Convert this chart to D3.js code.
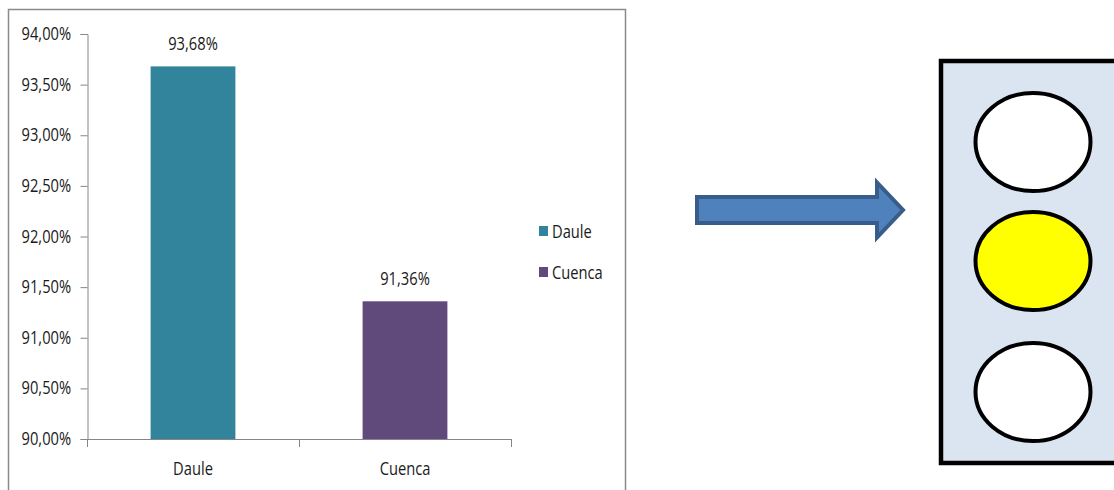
<!DOCTYPE html>
<html>
<head>
<meta charset="utf-8">
<script src="https://cdn.jsdelivr.net/npm/d3@7/dist/d3.min.js"></script>
<style>
  html, body { margin: 0; padding: 0; background: #ffffff; }
  svg { display: block; }
  text { font-family: "Open Sans", "Liberation Sans", sans-serif; fill: #1a1a1a; }
</style>
</head>
<body>
<svg id="chart" width="1114" height="490"></svg>
<script>
// ---- data ----
const categories = ["Daule", "Cuenca"];
const values = [93.68, 91.36];
const valueLabels = ["93,68%", "91,36%"];
const seriesColors = ["#31849B", "#604A7B"];
const yTicks = [90, 90.5, 91, 91.5, 92, 92.5, 93, 93.5, 94];
const yTickLabels = ["90,00%", "90,50%", "91,00%", "91,50%", "92,00%", "92,50%", "93,00%", "93,50%", "94,00%"];
const lights = ["off", "on", "off"];

const svg = d3.select("#chart");
const fontSize = 17.5;
const sx = 0.84; // horizontal squeeze to mimic a narrow font

function placeText(sel, fx, fy) {
  sel.attr("x", 0).attr("y", 0)
     .attr("transform", (d, i) => `translate(${fx(d, i)},${fy(d, i)}) scale(${sx},1)`)
     .attr("font-size", fontSize);
}

// chart frame
svg.append("rect")
  .attr("x", 8.5).attr("y", 9.5)
  .attr("width", 617).attr("height", 520)
  .attr("fill", "#ffffff")
  .attr("stroke", "#8a8a8a").attr("stroke-width", 1.5);

// scales
const y = d3.scaleLinear().domain([90, 94]).range([439, 34]);
const x = d3.scaleBand().domain(categories).range([87, 511]).paddingInner(0).paddingOuter(0);
const barW = x.bandwidth() * 0.4;

const axisColor = "#868686";

// y axis
const yAxis = d3.axisLeft(y).tickValues(yTicks)
  .tickFormat((d, i) => yTickLabels[i]).tickSize(7).tickPadding(12.5);
const gy = svg.append("g").attr("transform", "translate(87.5,0)").call(yAxis);
gy.select(".domain").attr("stroke", axisColor);
gy.selectAll(".tick line").attr("stroke", axisColor);
gy.selectAll(".tick text")
  .attr("font-size", fontSize)
  .attr("font-family", "'Open Sans', sans-serif")
  .attr("transform", `scale(${sx},1)`)
  .attr("fill", "#1a1a1a");

// x axis line + ticks at band edges
svg.append("line")
  .attr("x1", 87).attr("x2", 511)
  .attr("y1", 439.5).attr("y2", 439.5)
  .attr("stroke", axisColor);
const edges = [x.range()[0], ...categories.map(c => x(c) + x.bandwidth())];
svg.selectAll(".xtick").data(edges).enter().append("line")
  .attr("x1", d => d + 0.5).attr("x2", d => d + 0.5)
  .attr("y1", 439).attr("y2", 447)
  .attr("stroke", axisColor);

// bars
const data = categories.map((c, i) => ({ c, v: values[i], label: valueLabels[i], color: seriesColors[i] }));
svg.selectAll(".bar").data(data).enter().append("rect")
  .attr("x", d => x(d.c) + (x.bandwidth() - barW) / 2)
  .attr("y", d => y(d.v))
  .attr("width", barW)
  .attr("height", d => y(90) - y(d.v))
  .attr("fill", d => d.color);

// value labels
svg.selectAll(".vlabel").data(data).enter().append("text")
  .attr("text-anchor", "middle")
  .text(d => d.label)
  .call(placeText, d => x(d.c) + x.bandwidth() / 2, d => y(d.v) - 16);

// category labels
svg.selectAll(".clabel").data(data).enter().append("text")
  .attr("text-anchor", "middle")
  .text(d => d.c)
  .call(placeText, d => x(d.c) + x.bandwidth() / 2, () => 475);

// legend
const legend = svg.append("g").attr("transform", "translate(539,226)");
const lg = legend.selectAll("g").data(data).enter().append("g")
  .attr("transform", (d, i) => `translate(0,${i * 41})`);
lg.append("rect").attr("width", 9).attr("height", 10).attr("fill", d => d.color);
lg.append("text").text(d => d.c).call(placeText, () => 13, () => 12);

// arrow
const ax0 = 697, ax1 = 877, tip = 903, ay = 210, shaftH = 26, headH = 55;
const arrowPts = [
  [ax0, ay - shaftH / 2], [ax1, ay - shaftH / 2], [ax1, ay - headH / 2],
  [tip, ay], [ax1, ay + headH / 2], [ax1, ay + shaftH / 2], [ax0, ay + shaftH / 2]
];
svg.append("path")
  .attr("d", d3.line()(arrowPts) + "Z")
  .attr("fill", "#4F81BD")
  .attr("stroke", "#385D8A").attr("stroke-width", 4)
  .attr("stroke-linejoin", "miter");

// traffic light
svg.append("rect")
  .attr("x", 941).attr("y", 61)
  .attr("width", 200).attr("height", 402)
  .attr("fill", "#DBE5F1")
  .attr("stroke", "#000000").attr("stroke-width", 4.5);

const lightCy = [142, 261, 392];
svg.selectAll(".light").data(lights).enter().append("ellipse")
  .attr("cx", 1033)
  .attr("cy", (d, i) => lightCy[i])
  .attr("rx", 57.5).attr("ry", 49)
  .attr("fill", d => d === "on" ? "#FFFF00" : "#FFFFFF")
  .attr("stroke", "#000000").attr("stroke-width", 4);
</script>
</body>
</html>
